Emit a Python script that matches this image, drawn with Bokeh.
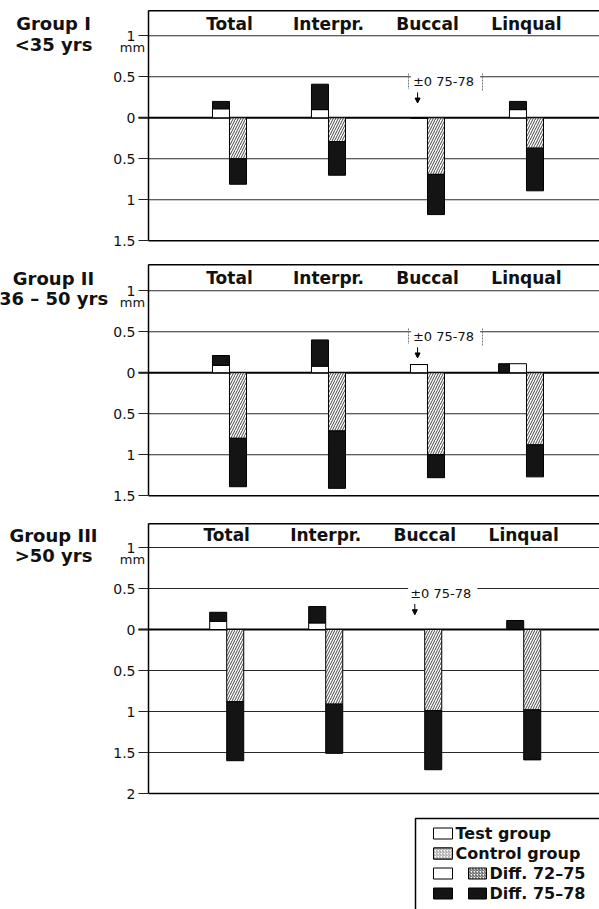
from bokeh.plotting import figure
from bokeh.models import (LinearAxis, FixedTicker, Range1d, Label,
                          Arrow, NormalHead, CustomJSTickFormatter)
from bokeh.layouts import column
from bokeh.embed import file_html
from bokeh.resources import INLINE
from bokeh.core.properties import value

# ---------------- data ----------------
categories = ["Total", "Interpr.", "Buccal", "Linqual"]
group_names = ["Group I", "Group II", "Group III"]
group_ages = ["<35 yrs", "36 – 50 yrs", ">50 yrs"]

# Test group: gain above zero (mm); 72-75 (white) with 75-78 (black) stacked on top
test_72_75_g1 = [0.11, 0.10, 0.00, 0.10]
test_75_78_g1 = [0.09, 0.31, 0.00, 0.10]
# Control group: loss below zero (mm); 72-75 (hatched) then 75-78 (black)
ctrl_72_75_g1 = [0.50, 0.29, 0.69, 0.37]
ctrl_75_78_g1 = [0.31, 0.41, 0.49, 0.52]

test_72_75_g2 = [0.09, 0.08, 0.10, 0.11]
test_75_78_g2 = [0.12, 0.32, 0.00, 0.11]
ctrl_72_75_g2 = [0.80, 0.71, 1.00, 0.88]
ctrl_75_78_g2 = [0.59, 0.70, 0.28, 0.39]

test_72_75_g3 = [0.10, 0.08, 0.00, 0.00]
test_75_78_g3 = [0.11, 0.20, 0.00, 0.11]
ctrl_72_75_g3 = [0.88, 0.91, 0.99, 0.98]
ctrl_75_78_g3 = [0.72, 0.60, 0.72, 0.61]

# Group II Linqual: the test-group 75-78 bar is drawn beside (not on top of) the 72-75 bar
beside_g1 = [False, False, False, False]
beside_g2 = [False, False, False, True]
beside_g3 = [False, False, False, False]

ticks_g1 = [-1.5, -1, -0.5, 0, 0.5, 1]
ticks_g2 = [-1.5, -1, -0.5, 0, 0.5, 1]
ticks_g3 = [-2, -1.5, -1, -0.5, 0, 0.5, 1]

annotation_text = "±0  75-78"
legend_labels = ["Test group", "Control group", "Diff. 72–75", "Diff. 75–78"]

FONT = "DejaVu Sans"
W = 599
LEFT = 148            # page x of the vertical axis
BAR_W = 0.172
PX = 99.0             # pixels per category unit
S = 82.0              # pixels per mm
PAD = 0.015


def make_panel(k, t1, t2, c1, c2, beside, ticks, top_line, height, btop, ax_x, brackets):
    bottom_line = min(ticks)
    xs = ax_x - LEFT / PX
    xe = xs + W / PX
    y_end = top_line + PAD
    y_start = y_end - (height - btop) / S
    p = figure(width=W, height=height, output_backend="svg", toolbar_location=None,
               x_range=Range1d(xs, xe), y_range=Range1d(y_start, y_end),
               x_axis_type=None, y_axis_type=None,
               min_border_left=0, min_border_right=0,
               min_border_top=btop, min_border_bottom=0)
    p.outline_line_color = None
    p.background_fill_color = "white"
    p.border_fill_color = "white"

    yax = LinearAxis(ticker=FixedTicker(ticks=ticks), fixed_location=ax_x,
                     bounds=(bottom_line, top_line),
                     formatter=CustomJSTickFormatter(code="return String(Math.abs(tick))"),
                     axis_line_width=1.5, axis_line_color="black",
                     major_tick_out=10, major_tick_in=0, minor_tick_out=0, minor_tick_in=0,
                     major_tick_line_color="#222", major_label_standoff=3,
                     major_label_text_font=FONT, major_label_text_font_size="14px",
                     major_label_text_color="#111")
    p.add_layout(yax, "left")

    # horizontal rules: grid lines at ticks, frame top/bottom lines, heavy zero line
    grid_y = [t for t in ticks if t not in (0, bottom_line)]
    p.segment(x0=[ax_x] * len(grid_y), x1=[xe] * len(grid_y), y0=grid_y, y1=grid_y,
              line_color="#2a2a2a", line_width=1.1)
    p.segment(x0=[ax_x, ax_x], x1=[xe, xe], y0=[top_line, bottom_line],
              y1=[top_line, bottom_line], line_color="black", line_width=1.5)
    p.segment(x0=[ax_x - 10 / PX], x1=[xe], y0=[0], y1=[0], line_color="black", line_width=2)

    idx = list(range(len(categories)))
    xt = [i - BAR_W / 2 for i in idx]
    xc = [i + BAR_W / 2 for i in idx]

    # control group bars (downwards)
    p.vbar(x=xc, width=BAR_W, top=[0] * 4, bottom=[-v for v in c1],
           fill_color="white", hatch_pattern="/", hatch_color="#444", hatch_scale=5,
           hatch_weight=1, line_color="black", line_width=1)
    p.vbar(x=xc, width=BAR_W, top=[-v for v in c1], bottom=[-(a + b) for a, b in zip(c1, c2)],
           fill_color="#141414", line_color="black", line_width=1)

    # test group bars (upwards)
    p.vbar(x=xt, width=BAR_W, bottom=[0] * 4, top=t1,
           fill_color="white", line_color="black", line_width=1)
    st_x = [x for x, s in zip(xt, beside) if not s]
    st_b = [a for a, s in zip(t1, beside) if not s]
    st_t = [a + b for a, b, s in zip(t1, t2, beside) if not s]
    p.vbar(x=st_x, width=BAR_W, bottom=st_b, top=st_t,
           fill_color="#141414", line_color="black", line_width=1)
    bw = 0.11
    bs_x = [i - BAR_W - bw / 2 for i, s in zip(idx, beside) if s]
    bs_t = [b for b, s in zip(t2, beside) if s]
    if bs_x:
        p.vbar(x=bs_x, width=bw, bottom=[0] * len(bs_x), top=bs_t,
               fill_color="#141414", line_color="black", line_width=1)

    # category headers
    p.text(x=idx, y=[1.15] * 4, text=categories, text_font=value(FONT),
           text_font_style="bold", text_font_size="17px", text_align="center",
           text_baseline="middle", text_color="#111")

    # annotation for Buccal test group
    b = categories.index("Buccal")
    p.add_layout(Label(x=b + 0.182, y=0.44, text=annotation_text, text_font=FONT,
                       text_font_size="13px", text_align="center", text_baseline="middle",
                       text_color="#111", background_fill_color="white", padding=2))
    if brackets:
        p.segment(x0=[b - 0.192, b + 0.556], x1=[b - 0.192, b + 0.556],
                  y0=[0.54, 0.54], y1=[0.35, 0.33], line_color="#777",
                  line_width=1, line_dash="2 1")
    p.add_layout(Arrow(end=NormalHead(size=5, fill_color="black", line_color="black"),
                       x_start=b - 0.10, y_start=0.31, x_end=b - 0.10, y_end=0.18,
                       line_width=1, line_color="black"))

    # group labels to the left of the axis
    gx = ax_x - (LEFT - 53) / PX
    p.text(x=[gx, gx], y=[1.15, 0.90], text=[group_names[k], group_ages[k]],
           text_font=value(FONT), text_font_style="bold", text_font_size="18px",
           text_align="center", text_baseline="middle", text_color="#111")
    p.text(x=[ax_x - 16 / PX], y=[0.855], text=["mm"], text_font=value(FONT),
           text_font_size="13px", text_align="center", text_baseline="middle",
           text_color="#111")
    return p


p1 = make_panel(0, test_72_75_g1, test_75_78_g1, ctrl_72_75_g1, ctrl_75_78_g1, beside_g1,
                ticks_g1, 1.306, 250, 9, -0.818, True)
p2 = make_panel(1, test_72_75_g2, test_75_78_g2, ctrl_72_75_g2, ctrl_75_78_g2, beside_g2,
                ticks_g2, 1.317, 255, 13, -0.818, True)
p3 = make_panel(2, test_72_75_g3, test_75_78_g3, ctrl_72_75_g3, ctrl_75_78_g3, beside_g3,
                ticks_g3, 1.29, 300, 17, -0.79, False)

# ---------------- legend (coordinates in page pixels, y measured upward) ----------------
LH = 104
leg = figure(width=W, height=LH, output_backend="svg", toolbar_location=None,
             x_range=Range1d(0, W), y_range=Range1d(0, LH),
             x_axis_type=None, y_axis_type=None, min_border_left=0,
             min_border_right=0, min_border_top=0, min_border_bottom=0)
leg.outline_line_color = None
leg.quad(left=[415], right=[640], top=[LH - 13], bottom=[-10], fill_color=None,
         line_color="black", line_width=1.5)
rows_y = [LH - 28, LH - 48, LH - 68, LH - 88]
sw_h = 11
leg.quad(left=[433] * 4, right=[452] * 4,
         top=[y + sw_h / 2 for y in rows_y], bottom=[y - sw_h / 2 for y in rows_y],
         fill_color=["white", "white", "white", "#141414"],
         line_color="black", line_width=1)
leg.quad(left=[433], right=[452], top=[rows_y[1] + sw_h / 2], bottom=[rows_y[1] - sw_h / 2],
         fill_color="white", hatch_pattern="/", hatch_color="#999", hatch_scale=3,
         hatch_weight=1, line_color="black", line_width=1)
leg.quad(left=[468], right=[486], top=[rows_y[2] + sw_h / 2], bottom=[rows_y[2] - sw_h / 2],
         fill_color="white", hatch_pattern="/", hatch_color="#444", hatch_scale=3,
         hatch_weight=1, line_color="black", line_width=1)
leg.quad(left=[468], right=[486], top=[rows_y[3] + sw_h / 2], bottom=[rows_y[3] - sw_h / 2],
         fill_color="#141414", line_color="black", line_width=1)
leg.text(x=[455, 455, 489, 489], y=rows_y, text=legend_labels, text_font=value(FONT),
         text_font_style="bold", text_font_size="16px", text_align="left",
         text_baseline="middle", text_color="#111")

layout = column(p1, p2, p3, leg, spacing=0)
open("out.html", "w").write(file_html(layout, INLINE))
